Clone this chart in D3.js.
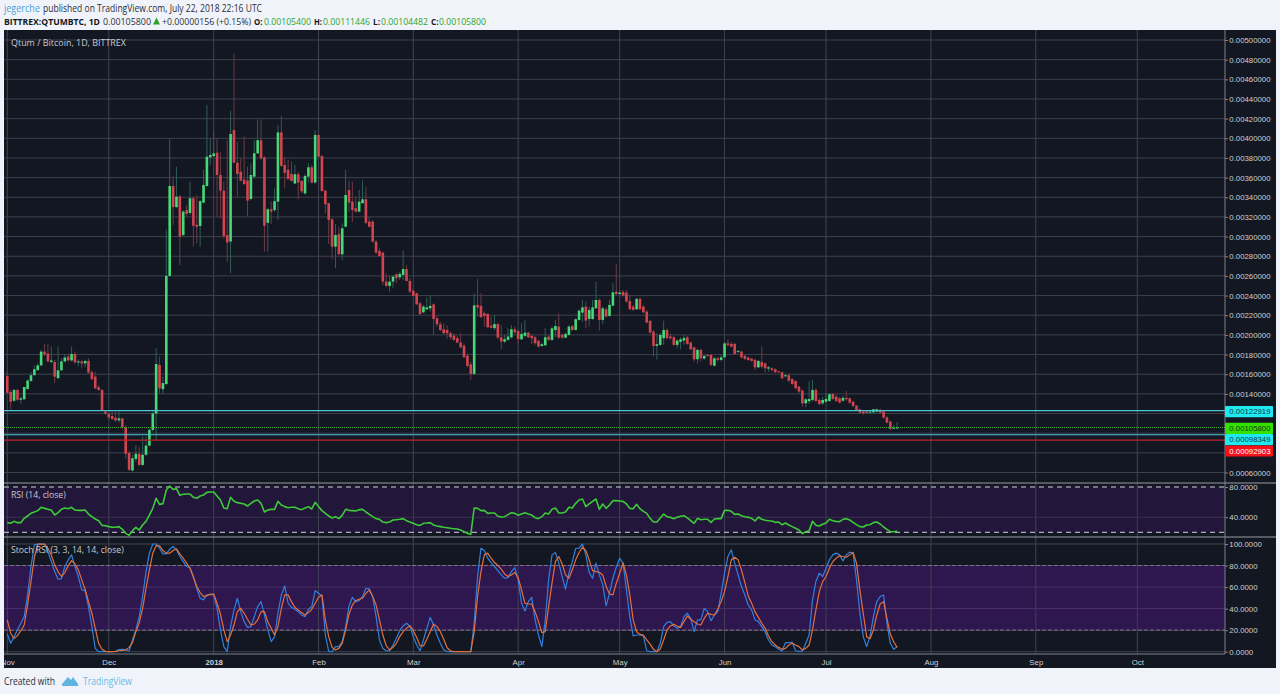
<!DOCTYPE html>
<html>
<head>
<meta charset="utf-8">
<title>QTUMBTC</title>
<script src="https://cdn.jsdelivr.net/npm/d3@7"></script>
<style>
  html, body { margin: 0; padding: 0; background: #f0f3fa; overflow: hidden; }
  text { font-family: "Liberation Sans", Arial, sans-serif; }
  .head text, .foot text { font-family: "Open Sans", sans-serif; }
</style>
</head>
<body>
<div id="chart"></div>
<script>
// daily candles from 1 Nov 2017, prices in units of 0.00001 BTC
var firstDay = new Date(Date.UTC(2017, 10, 1));

var opens = [
  158,142,133,144,134,134.5,145,153,159,164,
  169,183,181,172.5,172.5,156,164,173,178,174,
  180.6,172,173,171,173.5,162,157.5,146.7,144,122,
  119.6,117.5,115.8,113,115,106,80,62,73.8,79,
  67.7,78,87.4,103.3,120,169.4,144.7,150,260,351.5,
  330,341,301.6,327,324,339,312,310.8,334.5,351.5,
  380.6,382,385.4,362.7,346.7,301.6,295,408.4,375,366,
  358,357,338.3,361,384.7,398,380.6,314,327.8,327,
  335.6,406,372.8,368,363.7,354,363.4,356.6,344,361,
  370.5,355,403.4,382,346.7,333.9,317.6,289.8,302.7,282,
  310,347.4,335.6,328.8,325.4,333.9,337.9,315.2,315.2,294.9,
  285.4,283.7,254.2,249.8,254.2,261.7,258.6,261,267,254.9,
  245,242.3,232.2,223,226,227,231,216.9,210.8,205.7,
  205,201.7,199.3,196.6,192.2,189.1,178.9,170,160.3,230.5,
  229.5,222,221.3,209.5,206.8,211,197.6,193.2,194.9,197.6,
  205.7,204,195.5,199,202.3,199,197.6,194,188.8,189.4,
  198.3,194.9,205,208.4,200,197.2,200,209,205,215.2,
  222.7,228.8,216.2,216.2,227,235.5,215.2,226,219.3,229.8,
  244,241.6,243.7,243,234.5,228.8,226,236.6,228.8,223.7,
  214.2,203.3,188.8,189.8,196.6,205,198.3,197.6,189.8,193,
  194.2,197.6,192.2,187.4,175.2,184.7,176,179.6,179.6,168.7,
  176.2,174.5,177.2,191.4,190.8,190.8,183,183,178.6,176.9,
  175.8,174.5,167,172.5,171,165.7,166,165,163,162,
  158.2,159,155.2,153,147.4,143.3,130.4,132.5,133.8,144,
  133.8,130.4,132,132.8,139.9,137.2,135.5,133,136,135.5,
  132,128,124.3,122,122,121,121.3,122,123.6,122,
  116,111.8,104.7,105.4
];
var highs = [
  163,144,145,145,138,147,155,162,169,171,
  185,191,191,188,174.5,188,176,180.6,181,188,
  183,175,174.5,175,176,164,162.6,149,144.7,123.6,
  121,122,122,122,116,108,82,78,88,86,
  96.5,96.5,105,122,186.4,178,157.5,307,399,361,
  371,342,327,332,356,341,342,337,368,434,
  400,408,400,386,356,398,428,486,396.6,379.6,
  401.7,371,374.5,398,418.6,419.3,382,329,335.6,349,
  413.5,423,381,378,376,372.8,366,357.6,363.7,375,
  372.8,408.4,405,383,347.4,334.5,318.6,312.8,310,313.5,
  367.8,357,356,340.6,347.4,357,350.8,320.3,317,296.6,
  288,284.7,262.7,261,261,262.7,264.4,285.7,271,257.6,
  247.4,243,233.9,230.5,238,239.6,232,219.3,213.5,211.8,
  210,203.4,201.7,199,201.7,191.5,181.3,172.8,242.3,256.9,
  242.3,223.7,222,218.6,220.3,212.5,210,200,206.8,210,
  208.4,205,211.8,215,203,201,199,194.9,192,206.7,
  200,208.4,215,222,201.6,202.3,210,210,216.9,226,
  236,233.9,228.8,235.5,254,237,228.8,228,235.5,252.5,
  272,245.7,246,245.7,240.6,230.5,237.9,237.9,230.5,225.4,
  215.2,205,201.6,201.6,214.5,206.7,201.6,199,195.5,197.6,
  200,199,193.2,188,186.4,186,179.6,180,180.6,177.9,
  177.9,179.6,193,195.5,193,192,184.7,184,179.6,177.9,
  176.5,176.2,174.5,188,172,168.4,167,166,163.6,162.6,
  160,161,155.8,154,148,144.7,135.5,152.5,154,145.7,
  135.5,137,140.6,140.6,141,138.9,137,137.9,143.3,136.5,
  133,128.7,125,123,123.6,123.6,125,125,125,123.6,
  117.5,112.8,108.4,111.45
];
var lows = [
  141,124,132,133,130,134,144,152.5,158.5,164,
  168,178.5,172,171,151,155,163,172,173,173,
  171,168,166,167,161,154,144.7,143,123,118.6,
  114,113,111.4,110.8,104,74.5,61.6,61,71,66.7,
  66.7,77,86.4,101.6,93,140.6,140,149,259,312,
  329,271,300,320,322,290,293,290,334,351,
  373,381,320,318.6,298,274.5,262.7,374.5,340.6,356,
  352.5,321,337,359,384,378,284.7,284.7,313,325,
  317,371,349,357.6,356,353.5,338,344,342.3,355,
  354,354,380.6,345.7,323.7,292.5,276.9,267.8,281.3,276,
  309.5,325.4,315,324.4,324.7,333.9,312.9,309.5,293.9,282.3,
  279.6,250.8,248.4,244,247.4,252.5,255.9,255.9,254.2,242.3,
  239,230.5,220.3,222,224.7,223.7,200,208.4,204,201,
  195.6,194.9,193.9,191.5,186.4,176.2,167,154,159.3,218.6,
  217,208.4,206.8,206.8,205,195.6,185.7,191.5,194,196,
  201,189.8,194.9,197.6,196.6,190.8,190,187.4,188,188.8,
  194,194,197.6,196,196,196.6,199,204,204.4,214.5,
  213.5,206.7,208.4,215.2,226.4,204.4,211,217.9,218.6,228.8,
  240.6,240.6,239,233,225.4,224.7,225.4,225.4,222,211.8,
  201.6,178,175,188.8,189.8,195.5,194.9,188.8,186.4,185.4,
  189.8,189.8,184.7,172.8,171,173,174.5,177.5,168.4,167.7,
  172.8,172.8,176,188,187.4,179.6,181.3,176,174.5,173.5,
  172.8,163.6,166,166,161.6,162.6,162.6,161,161.6,155.2,
  156.9,152,149,144.7,141,127,126.4,129.7,132,131.8,
  128.4,128.7,131,131.8,133.8,131.8,130.4,132,133,129.7,
  126.4,122.6,119.6,118.6,119.6,119,120,121,119.6,114.8,
  110,103.3,104,104.48
];
var closes = [
  141,132,144,134,135.5,147,153.5,159,165,169,
  183,180,173,174,157.5,164,173,177,174,180.6,
  172,173,171,173.5,161.6,155,145.7,144,123.6,120,
  116,114.5,113,115,106,79,62.6,74.5,79,67.7,
  78,87.4,103.3,120,170.4,145.7,151,260,351.5,330,
  340.6,300,325.4,323,339,311,310,336,352.5,381.3,
  383,384.7,362.7,346.7,300.6,294,404.4,375.2,363.7,357,
  353.5,336.6,362.7,384.7,398,379.6,311,327.8,325.4,336,
  406,372,365,358.6,356.6,363.4,355,346,361.7,370.5,
  355,403.4,381.3,346.4,333,317,289.8,301.6,282,308.4,
  342.3,334.5,327,325.4,335.6,337.9,314,310,294.9,283.7,
  280.3,254.2,249.8,254.2,259.3,257.6,262,267,254.9,244,
  239.6,231,221.3,228.8,228,229.5,216.2,210.8,205,201.7,
  201.7,197.6,194.9,192.2,187.4,177.3,168.4,160.3,230,228,
  218,219.3,207.8,207.4,211,197.3,193.2,195.6,198.3,205.7,
  202.7,195.6,201,202.3,197.6,196.6,191.5,188,190.5,197.6,
  194.9,206.7,209,197.2,197.2,201,208.4,205,215.9,224.7,
  228,214.5,225.4,228,235.5,215.2,227,218.6,230.5,243.3,
  241.6,243,240,233.9,226,225.4,236.6,226,223,212.5,
  202.3,188.8,190.5,200,205,196.6,196.6,189.8,194.2,195.5,
  196.9,190.8,185.4,175.2,184.7,176.2,178.6,178.6,169.4,176.2,
  174.5,177.2,191.4,189.7,188,180.6,183.7,177.2,175.5,174.5,
  173.5,167,173.5,167.7,166,167,164.3,162,162.6,155.8,
  158.9,153.5,150,145.7,142.3,130.4,134.5,134.8,144,132.8,
  129.7,133.8,134.8,139.6,134.8,132.8,131,136,134.5,131,
  127.7,123.6,120.9,120.3,120.6,122,124.3,124.3,121,115.8,
  110.8,104.3,105.7,105.8
];

var rsi = [
  32.8,31.9,34.5,32.8,32.8,38.5,41.6,45.1,46.9,48.7,
  53.1,51.7,50.4,49.5,42.9,46,50.4,52.2,51.3,53.1,
  49.5,49.1,49.1,49.5,44.2,40.7,37.6,35.4,29.2,28.8,
  27.5,26.6,26.6,27.5,23.9,18.6,16,22.2,26.6,23,
  29.7,34.5,42.9,51.7,65,57,58,76,81.3,76.9,
  77.8,69,70.3,70.7,70.7,66.3,65,68.1,69.4,72.9,
  73.4,73.4,68.1,62.8,52.2,51.3,66.3,61,59.3,58.4,
  57.5,54.8,58.4,61.5,62.8,58.4,46.9,49.5,50.4,50.4,
  61,56.2,54,52.6,53.1,53.1,51.3,50,52.2,54,
  50.9,59.7,54,48.7,45.1,41.6,39,40.7,38.1,42.5,
  50.4,49.1,48.7,48.2,50,50.4,46.9,43.8,40.7,38.1,
  37.2,33.6,32.8,33.6,36.3,36.7,37.2,38.1,35.4,33.6,
  31.9,30.1,29.2,31.9,32.3,32.8,29.7,28.3,27.5,26.6,
  26.1,25.3,24.8,24.4,23,20.8,18.6,17.3,52.2,51.7,
  48.7,49.1,45.1,45.6,45.6,41.2,40.3,40.7,43.4,46,
  45.1,42.5,44.2,46,44.2,42.9,39.4,38.1,40.7,45.6,
  44.2,50.4,52.2,45.6,45.6,46.9,53.1,52.2,58.4,62.8,
  64.1,54,57.5,61,64.1,50.4,57.5,51.7,56.2,61.9,
  61.9,61.5,61,57.5,51.7,51.3,57,51.3,47.8,45.1,
  38.5,33.6,33.6,39,44.2,40.7,39.8,38.1,39.8,41.2,
  42,39,35.4,31.9,38.5,36.7,37.2,37.2,33.2,37.6,
  38.1,38.1,49.1,49.1,47.8,43.8,44.2,42,40.7,39.8,
  38.5,35,40.3,37.2,35.9,35.4,35,33.2,33.6,30.1,
  32.3,29.7,27.5,25.3,23,18.2,20.8,22.2,34.5,29.2,
  28.3,30.6,32.3,37.2,35.4,34.5,34.1,37.2,38.1,36.3,
  33.2,30.1,27.5,27,29.7,30.1,32.8,33.6,31,27,
  23.9,20.8,20.8,21.7
];

var stochK = [
  16.4,7.8,14,20.2,26.4,32.6,52.7,79.1,99.2,100,
  100,100,93,83.7,74.4,67.3,67.6,79.1,85.3,89.9,
  79.1,69.8,57.4,56.7,41.9,23.3,3.1,0,0,0,
  0,0,0.3,1.9,2.2,1.9,0.6,10.9,20.2,32.6,
  51.2,74.4,91.5,100,100,96.1,90.8,90.8,95.2,97.7,
  94.6,88.4,83.7,79.1,78.1,69.8,58.9,49.6,48.1,52.7,
  53.3,52.7,40.3,20.2,4.7,0,23.3,38.8,49.6,37.2,
  27.9,22.6,23.3,32.6,41.9,46.5,34.1,20.2,9.3,14,
  35.7,52.7,61.1,45,41.2,39.4,37.2,34.1,32.6,39.4,
  41.9,56.7,54.3,51.8,15.5,0.3,0,4.7,4.7,9.3,
  23.3,42.5,50.5,46.5,47.4,51.2,58.9,58.3,51.2,32.6,
  10.9,3.1,0.9,0.9,6.2,12.4,19.5,23.9,26.4,23.9,
  14,6.2,0.9,10.9,21.7,31.9,24.8,15.5,7.8,1.6,
  0.3,0,0,0,0,0,0,0,26.4,69.8,
  96.1,93.9,86.8,82.8,79.1,75.3,71.3,68.2,68.8,74.4,
  78.1,66.7,45,37.8,46.5,50.5,29.5,15.5,4.7,29.5,
  66.7,89.9,92.1,82.2,69.8,58,72.9,83.7,95.8,96.1,
  100,89.9,73.5,68.2,82.2,71.3,62,42.5,54.3,68.2,
  78.4,86.8,82.2,57.4,32.6,14.6,15.5,15.5,14.6,0.9,
  0,0,0,7.8,23.3,27.3,27.9,23.9,21.7,23.3,
  32.6,35.7,31,18.6,29.5,29.5,40.3,37.2,28.8,34.1,
  37.2,54.3,72.9,88.4,94.6,82.2,71.3,60.5,52.7,43.4,
  38.8,29.5,27.9,23.3,18.6,10.9,6.2,4.7,2.2,0.6,
  8.4,8.4,8.7,0.9,0.3,0.3,7.8,15.5,48.1,65.1,
  72.9,69.8,77.5,85.3,89.9,91.5,89.9,84.3,89.9,92.4,
  91.5,66.7,35.7,14,4.7,14,32.6,46.5,51.2,52.7,
  26.4,7.8,2.2,4.7
];
var stochD = [
  29.5,17.1,12.1,14.9,19.5,24.8,43.4,65.1,87.7,99.8,
  100,99.8,96.1,89.9,80.6,74.4,69.8,73.5,79.7,84.6,
  81.5,76,66.7,58,46.5,35.7,21.7,7.8,2.2,0.3,
  0,0,0.3,0.9,1.2,1.6,4,8.4,18.6,27,
  40.3,58.9,76,91.5,98.3,98.3,93.9,91.5,91.5,93.9,
  95.5,90.8,86.8,82.2,77.5,69.1,60.5,54.9,51.2,52.1,
  53.3,53.6,45,35,20.2,9.3,15.5,24.8,37.2,40.3,
  35.7,30.1,24.8,25.7,29.5,37.2,37.2,27.9,21.7,15.5,
  23.3,40.3,52.7,52.7,46.5,41.2,38.8,36.3,34.1,36.3,
  39.4,45,50.5,52.7,29.5,14,4,1.6,3.1,7.8,
  20.2,35,43.4,47.4,48.7,49.6,54.3,57.4,51.2,43.4,
  29.5,15.5,5.6,1.6,4,7.8,14,18.6,21.7,24.2,
  19.5,13.3,5.6,5.3,11.5,18.6,25.7,23.3,18.6,11.5,
  3.7,0.9,0,0,0,0,0,0,18.6,51.2,
  74.4,89.9,91.5,86.8,82.8,80,76.6,72.2,69.8,71.3,
  73.5,68.8,57.4,45,44.3,44.3,37.2,27.9,17.7,18.6,
  41.9,63.6,83.7,88.4,81.5,71.3,68.2,76,85.3,92.1,
  97,93.9,85.3,75.3,74.4,73.8,71.3,60.5,53.6,52.7,
  63.6,72.9,82.2,71.3,52.7,29.5,18.6,16.1,15.5,10.9,
  7.1,2.2,0,2.5,10.9,20.2,23.9,25.4,23.9,22.6,
  27.9,33.2,30.1,27.9,25.7,24.8,31,35.7,34.7,34.1,
  39.4,46.5,55.8,69.8,85.3,87.7,85.3,76,64.2,51.8,
  45,37.2,31.9,26.4,21.7,14.6,9.3,6.2,4,2.2,
  3.1,6.2,7.8,6.2,4.7,1.6,3.1,6.2,20.2,38.8,
  55.8,65.1,69.8,77.5,83.7,86.8,89,88.4,87.7,89.9,
  92.1,82.2,57.4,35.7,14,12.1,20.2,34.1,44.3,46.5,
  31,16.4,9.3,4
];

// axis ticks and horizontal levels
var priceGrid = [500,480,460,440,420,400,380,360,340,320,300,280,260,240,220,200,180,160,140,120,100,80,60];
var priceLabelled = [500,480,460,440,420,400,380,360,340,320,300,280,260,240,220,200,180,160,140,60];
var rsiTicks = [80, 40];
var rsiBand = [80, 20];
var stochTicks = [100, 80, 60, 40, 20, 0];
var stochBand = [80, 20];
var monthStarts = ["2017-11-01","2017-12-01","2018-01-01","2018-02-01","2018-03-01","2018-04-01","2018-05-01","2018-06-01","2018-07-01","2018-08-01","2018-09-01","2018-10-01"];
var monthNames = ["Nov","Dec","2018","Feb","Mar","Apr","May","Jun","Jul","Aug","Sep","Oct"];
var levelValues = [122.919, 105.8, 98.349, 92.903];
var levelNames = ["0.00122919", "0.00105800", "0.00098349", "0.00092903"];

var width = 1280, height = 694;
var left = 4, right = 1225, chartRight = 1276, top_ = 30, priceBottom = 483, rsiBottom = 537, stochBottom = 654, chartBottom = 668;
var axisFont = "7.8px";

var svg = d3.select("#chart").append("svg").attr("width", width).attr("height", height).style("display", "block");

var defs = svg.append("defs");
defs.append("clipPath").attr("id", "plotClip").append("rect").attr("x", left).attr("y", top_).attr("width", right - left).attr("height", chartBottom - top_);
defs.append("clipPath").attr("id", "chartAxisClip").append("rect").attr("x", left).attr("y", 0).attr("width", chartRight - left).attr("height", 20);
// the reference is a soft screenshot
defs.append("filter").attr("id", "soft").append("feGaussianBlur").attr("stdDeviation", 0.35);

// chart background
svg.append("rect").attr("x", left).attr("y", top_).attr("width", chartRight - left).attr("height", chartBottom - top_).attr("fill", "#131722");

// scales
var parseDay = d3.utcParse("%Y-%m-%d");
var x = d3.scaleUtc().domain([parseDay("2017-11-01"), parseDay("2018-10-01")]).range([7.3, 1137.3]);
var yPrice = d3.scaleLinear().domain([500, 60]).range([40, 472.5]);
var yRsi = d3.scaleLinear().domain([80, 20]).range([487, 532.3]);
var yStoch = d3.scaleLinear().domain([100, 0]).range([544, 651.7]);

var dates = opens.map(function (d, i) { return d3.utcDay.offset(firstDay, i); });
var months = monthStarts.map(parseDay);

var plot = svg.append("g").attr("clip-path", "url(#plotClip)").append("g").attr("filter", "url(#soft)");

// purple bands
plot.append("rect").attr("x", left).attr("width", right - left)
  .attr("y", yRsi(rsiBand[0])).attr("height", yRsi(rsiBand[1]) - yRsi(rsiBand[0])).attr("fill", "#22143a");
plot.append("rect").attr("x", left).attr("width", right - left)
  .attr("y", yStoch(stochBand[0])).attr("height", yStoch(stochBand[1]) - yStoch(stochBand[0])).attr("fill", "#2e1650");

// month grid lines
plot.selectAll(".vgrid").data(months).enter().append("line").attr("class", "vgrid")
  .attr("x1", function (d) { return x(d); }).attr("x2", function (d) { return x(d); })
  .attr("y1", top_).attr("y2", stochBottom).attr("stroke", "#3f4353").attr("stroke-width", 1);

// horizontal grid lines
plot.selectAll(".pgrid").data(priceGrid).enter().append("line").attr("class", "pgrid")
  .attr("x1", left).attr("x2", right).attr("y1", function (d) { return yPrice(d); }).attr("y2", function (d) { return yPrice(d); })
  .attr("stroke", "#3d404d");
plot.selectAll(".rgrid").data(rsiTicks.slice(1)).enter().append("line").attr("class", "rgrid")
  .attr("x1", left).attr("x2", right).attr("y1", function (d) { return yRsi(d); }).attr("y2", function (d) { return yRsi(d); })
  .attr("stroke", "#3c3350");
plot.selectAll(".sgrid").data(stochTicks).enter().append("line").attr("class", "sgrid")
  .attr("x1", left).attr("x2", right).attr("y1", function (d) { return yStoch(d); }).attr("y2", function (d) { return yStoch(d); })
  .attr("stroke", function (d) { return (d == 60 || d == 40) ? "#4a3368" : "#3d404d"; });

// band edges
plot.selectAll(".rband").data(rsiBand).enter().append("line").attr("class", "rband")
  .attr("x1", left).attr("x2", right).attr("y1", function (d) { return yRsi(d); }).attr("y2", function (d) { return yRsi(d); })
  .attr("stroke", "#d2d2da").attr("stroke-dasharray", "5,4");
plot.selectAll(".sband").data(stochBand).enter().append("line").attr("class", "sband")
  .attr("x1", left).attr("x2", right).attr("y1", function (d) { return yStoch(d); }).attr("y2", function (d) { return yStoch(d); })
  .attr("stroke", "#85708e").attr("stroke-dasharray", "4,2");

// candles
var idx = d3.range(opens.length);
function isUp(i) { return closes[i] >= opens[i]; }

plot.selectAll(".wick").data(idx).enter().append("line").attr("class", "wick")
  .attr("x1", function (i) { return x(dates[i]); }).attr("x2", function (i) { return x(dates[i]); })
  .attr("y1", function (i) { return yPrice(highs[i]); }).attr("y2", function (i) { return yPrice(lows[i]); })
  .attr("stroke", function (i) { return isUp(i) ? "#2f5e56" : "#6a3a46"; }).attr("stroke-width", 1);

plot.selectAll(".body").data(idx).enter().append("rect").attr("class", "body")
  .attr("x", function (i) { return x(dates[i]) - 1.3; }).attr("width", 2.6)
  .attr("y", function (i) { return yPrice(Math.max(opens[i], closes[i])); })
  .attr("height", function (i) { return Math.max(1, Math.abs(yPrice(opens[i]) - yPrice(closes[i]))); })
  .attr("fill", function (i) { return isUp(i) ? "#46d877" : "#d0444f"; });

// horizontal levels
var levelColors = ["#4ec6d6", "#46b030", "#4ec6d6", "#c0202e"];
plot.selectAll(".level").data(levelValues).enter().append("line").attr("class", "level")
  .attr("x1", left).attr("x2", right).attr("y1", function (d) { return yPrice(d); }).attr("y2", function (d) { return yPrice(d); })
  .attr("stroke", function (d, i) { return levelColors[i]; })
  .attr("stroke-width", function (d, i) { return i == 1 ? 1.2 : 1.1; })
  .attr("stroke-dasharray", function (d, i) { return i == 1 ? "1,1" : null; });

// indicator lines
function drawLine(values, yScale, color, w) {
  var line = d3.line().x(function (d, i) { return x(dates[i]); }).y(function (d) { return yScale(d); });
  plot.append("path").datum(values).attr("d", line).attr("fill", "none").attr("stroke", color).attr("stroke-width", w).attr("stroke-linejoin", "round");
}
drawLine(rsi, yRsi, "#3ccb38", 1.6);
drawLine(stochK, yStoch, "#2f80dc", 1.2);
drawLine(stochD, yStoch, "#e2703c", 1.2);

// pane separators
[priceBottom, rsiBottom].forEach(function (y) {
  svg.append("line").attr("x1", left).attr("x2", chartRight).attr("y1", y).attr("y2", y).attr("stroke", "#9a9ca4");
});

// right axes
function priceFmt(d) { return (d / 100000).toFixed(8); }
function styleAxis(g) {
  g.selectAll("path.domain").attr("stroke", "#7d8088");
  g.selectAll(".tick line").attr("stroke", "#7d8088");
  g.selectAll("text").attr("fill", "#cdcfd3").attr("font-size", axisFont).style("font-family", '"Liberation Sans", Arial, sans-serif');
}
var axisPrice = d3.axisRight(yPrice).tickValues(priceLabelled).tickFormat(priceFmt).tickSize(3).tickPadding(1.3);
var gp = svg.append("g").attr("transform", "translate(" + right + ",0)").call(axisPrice);
styleAxis(gp);
gp.select("path.domain").attr("d", "M0," + top_ + "V" + priceBottom);

var axisRsi = d3.axisRight(yRsi).tickValues(rsiTicks).tickFormat(d3.format(".4f")).tickSize(3).tickPadding(1.3);
var gr = svg.append("g").attr("transform", "translate(" + right + ",0)").call(axisRsi);
styleAxis(gr);
gr.select("path.domain").attr("d", "M0," + priceBottom + "V" + rsiBottom);

var axisStoch = d3.axisRight(yStoch).tickValues(stochTicks).tickFormat(d3.format(".4f")).tickSize(3).tickPadding(1.3);
var gs = svg.append("g").attr("transform", "translate(" + right + ",0)").call(axisStoch);
styleAxis(gs);
gs.select("path.domain").attr("d", "M0," + rsiBottom + "V" + stochBottom);

// price level tags, moved apart like in the platform
var tagY = [411.7, 428.3, 439.7, 451];
var tagFill = ["#1fe9f0", "#34e000", "#1fe9f0", "#f5101a"];
var tagText = ["#0e3c44", "#0d3a08", "#0e3c44", "#ffffff"];
var tags = svg.append("g").selectAll("g").data(levelNames).enter().append("g")
  .attr("transform", function (d, i) { return "translate(" + right + "," + tagY[i] + ")"; });
tags.append("rect").attr("x", 0).attr("y", -5.6).attr("width", 48).attr("height", 11.2).attr("rx", 1)
  .attr("fill", function (d, i) { return tagFill[i]; });
tags.append("text").attr("x", 4.3).attr("dy", "0.35em").attr("font-size", axisFont)
  .attr("fill", function (d, i) { return tagText[i]; }).text(function (d) { return d; });

// time axis
svg.append("line").attr("x1", left).attr("x2", right).attr("y1", stochBottom).attr("y2", stochBottom).attr("stroke", "#7d8088");
var axisTime = d3.axisBottom(x).tickValues(months).tickSize(0).tickPadding(5)
  .tickFormat(function (d, i) { return monthNames[i]; });
var gt = svg.append("g").attr("transform", "translate(0," + stochBottom + ")").attr("clip-path", "url(#chartAxisClip)").call(axisTime);
styleAxis(gt);
gt.select("path.domain").remove();
gt.selectAll("text").filter(function (d, i) { return monthNames[i] == "2018"; }).attr("font-weight", "bold");

// labels inside the panes
var paneLabels = ["Qtum / Bitcoin, 1D, BITTREX", "RSI (14, close)", "Stoch RSI (3, 3, 14, 14, close)"];
var paneLabelY = [46, 498, 553];
var paneLabelW = [115, 54.7, 112.7];
svg.append("g").attr("class", "head").selectAll("text").data(paneLabels).enter().append("text")
  .attr("x", 11).attr("y", function (d, i) { return paneLabelY[i]; })
  .attr("textLength", function (d, i) { return paneLabelW[i]; }).attr("lengthAdjust", "spacingAndGlyphs")
  .attr("font-size", "9.5px").attr("fill", "#c9cbd0").text(function (d) { return d; });

// header lines
var head = svg.append("g").attr("class", "head").attr("font-size", "10.5px");
head.append("text").attr("x", 4).attr("y", 11.5).attr("fill", "#4a9fd8").attr("textLength", 36).attr("lengthAdjust", "spacingAndGlyphs").text("jegerche");
head.append("text").attr("x", 43).attr("y", 11.5).attr("fill", "#2a2e39").attr("textLength", 219).attr("lengthAdjust", "spacingAndGlyphs").text("published on TradingView.com, July 22, 2018 22:16 UTC");

var headBits = [
  [4, 96, "BITTREX:QTUMBTC, 1D", "#131722", "bold"],
  [103, 48, "0.00105800", "#2a2e39", "normal"],
  [162, 89, "+0.00000156 (+0.15%)", "#2a2e39", "normal"],
  [254, 8.5, "O:", "#131722", "bold"],
  [264, 47, "0.00105400", "#2ca32c", "normal"],
  [314, 8, "H:", "#131722", "bold"],
  [323, 47, "0.00111446", "#2ca32c", "normal"],
  [373, 7, "L:", "#131722", "bold"],
  [381, 47, "0.00104482", "#2ca32c", "normal"],
  [431, 7.5, "C:", "#131722", "bold"],
  [439, 47, "0.00105800", "#2ca32c", "normal"]
];
head.selectAll(".bit").data(headBits).enter().append("text").attr("class", "bit")
  .attr("x", function (d) { return d[0]; }).attr("y", 24.5)
  .attr("font-size", "9px")
  .attr("textLength", function (d) { return d[1]; }).attr("lengthAdjust", "spacingAndGlyphs")
  .attr("fill", function (d) { return d[3]; }).attr("font-weight", function (d) { return d[4]; })
  .text(function (d) { return d[2]; });
head.append("path").attr("d", "M153,24.5 L160,24.5 L156.5,17.5 Z").attr("fill", "#2ca32c");

// footer
var foot = svg.append("g").attr("class", "foot");
foot.append("text").attr("x", 4).attr("y", 685).attr("font-size", "10.5px").attr("fill", "#2a2e39")
  .attr("textLength", 51).attr("lengthAdjust", "spacingAndGlyphs").text("Created with");
foot.append("path").attr("fill", "#5fb4e0")
  .attr("d", "M62,684 L68,677 L71,680 L73,677 L78,684 Q79,686 76,686 L64,686 Q61,686 62,684 Z");
foot.append("text").attr("x", 83).attr("y", 685).attr("font-size", "10.5px").attr("fill", "#6db9e2")
  .attr("textLength", 49).attr("lengthAdjust", "spacingAndGlyphs").text("TradingView");
</script>
</body>
</html>
